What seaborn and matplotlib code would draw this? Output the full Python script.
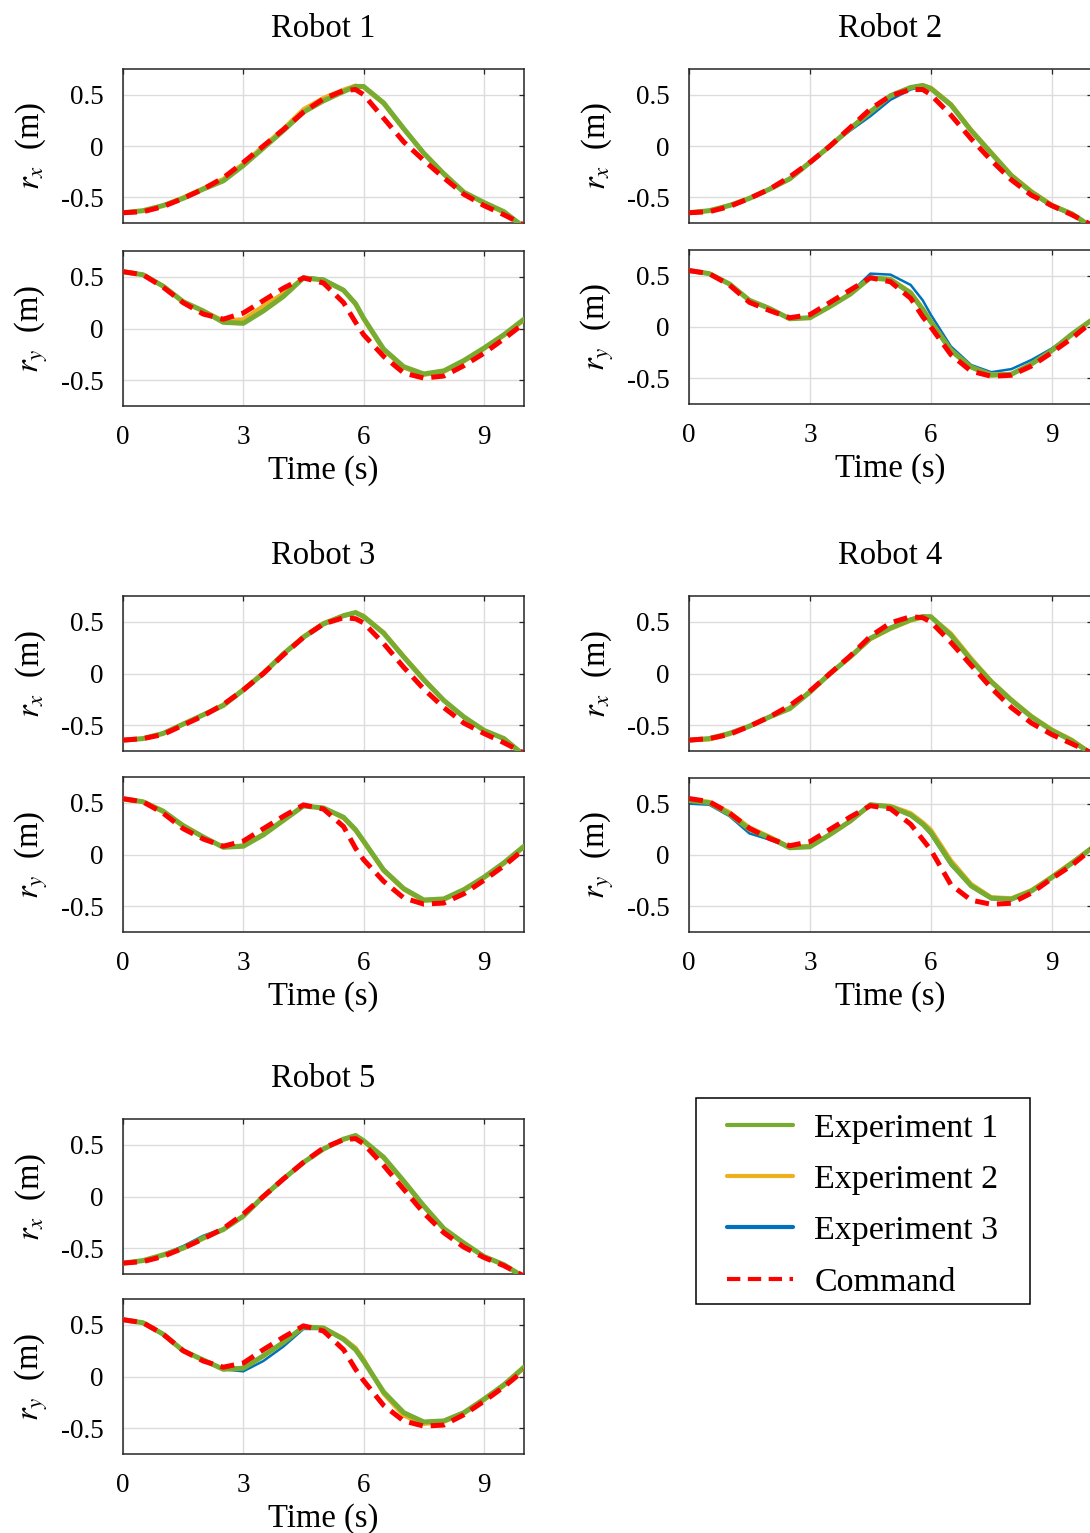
import matplotlib
matplotlib.use("Agg")
import matplotlib.pyplot as plt
from matplotlib.lines import Line2D
from matplotlib.patches import Rectangle
import seaborn as sns

# Time knots (s)
T = [0, 0.5, 1, 1.5, 2, 2.5, 3, 3.5, 4, 4.5, 5, 5.5, 5.8, 6, 6.5, 7, 7.5, 8, 8.5, 9, 9.5, 10]

# Robot 1
R1_RX_CMD = [-0.65, -0.64, -0.59, -0.51, -0.42, -0.31, -0.16, 0.00, 0.16, 0.33, 0.46, 0.54, 0.55, 0.50, 0.27, 0.04, -0.14, -0.31, -0.47, -0.58, -0.67, -0.77]
R1_RX_E1 = [-0.65, -0.63, -0.58, -0.51, -0.42, -0.34, -0.19, -0.02, 0.15, 0.33, 0.44, 0.53, 0.58, 0.58, 0.42, 0.17, -0.07, -0.27, -0.45, -0.55, -0.64, -0.79]
R1_RX_E2 = [-0.65, -0.63, -0.58, -0.50, -0.41, -0.32, -0.17, 0.00, 0.17, 0.36, 0.47, 0.55, 0.59, 0.57, 0.41, 0.16, -0.07, -0.28, -0.45, -0.56, -0.65, -0.79]
R1_RX_E3 = [-0.65, -0.63, -0.58, -0.51, -0.42, -0.33, -0.18, -0.01, 0.16, 0.34, 0.45, 0.54, 0.58, 0.57, 0.41, 0.16, -0.08, -0.28, -0.45, -0.56, -0.65, -0.79]
R1_RY_CMD = [0.55, 0.52, 0.40, 0.25, 0.14, 0.09, 0.15, 0.27, 0.39, 0.49, 0.44, 0.25, 0.06, -0.06, -0.27, -0.43, -0.48, -0.46, -0.36, -0.24, -0.10, 0.05]
R1_RY_E1 = [0.55, 0.52, 0.41, 0.26, 0.17, 0.06, 0.05, 0.17, 0.31, 0.49, 0.47, 0.37, 0.24, 0.10, -0.20, -0.37, -0.44, -0.41, -0.31, -0.19, -0.06, 0.09]
R1_RY_E2 = [0.55, 0.52, 0.41, 0.25, 0.17, 0.08, 0.09, 0.22, 0.34, 0.49, 0.47, 0.37, 0.23, 0.09, -0.21, -0.38, -0.45, -0.42, -0.32, -0.20, -0.07, 0.08]
R1_RY_E3 = [0.55, 0.52, 0.41, 0.26, 0.17, 0.06, 0.06, 0.18, 0.31, 0.50, 0.48, 0.38, 0.25, 0.11, -0.19, -0.37, -0.44, -0.42, -0.31, -0.19, -0.06, 0.09]

# Robot 2
R2_RX_CMD = [-0.65, -0.64, -0.59, -0.51, -0.42, -0.30, -0.16, 0.00, 0.18, 0.36, 0.49, 0.55, 0.55, 0.50, 0.30, 0.07, -0.14, -0.33, -0.48, -0.58, -0.67, -0.77]
R2_RX_E1 = [-0.65, -0.63, -0.58, -0.51, -0.42, -0.32, -0.16, 0.00, 0.17, 0.33, 0.49, 0.57, 0.59, 0.56, 0.40, 0.15, -0.07, -0.29, -0.45, -0.58, -0.66, -0.79]
R2_RX_E2 = [-0.65, -0.63, -0.58, -0.51, -0.42, -0.32, -0.16, 0.00, 0.17, 0.34, 0.49, 0.57, 0.59, 0.57, 0.41, 0.16, -0.06, -0.28, -0.44, -0.57, -0.66, -0.79]
R2_RX_E3 = [-0.65, -0.63, -0.57, -0.51, -0.42, -0.32, -0.16, 0.00, 0.15, 0.29, 0.45, 0.55, 0.58, 0.55, 0.39, 0.14, -0.08, -0.30, -0.46, -0.59, -0.67, -0.80]
R2_RY_CMD = [0.55, 0.52, 0.41, 0.24, 0.16, 0.09, 0.12, 0.24, 0.36, 0.48, 0.44, 0.28, 0.10, 0.00, -0.27, -0.43, -0.48, -0.47, -0.38, -0.25, -0.11, 0.05]
R2_RY_E1 = [0.55, 0.52, 0.42, 0.26, 0.18, 0.08, 0.09, 0.20, 0.32, 0.48, 0.46, 0.33, 0.17, 0.05, -0.23, -0.39, -0.47, -0.46, -0.36, -0.23, -0.07, 0.07]
R2_RY_E2 = [0.55, 0.52, 0.42, 0.26, 0.18, 0.08, 0.09, 0.20, 0.33, 0.48, 0.47, 0.34, 0.18, 0.06, -0.22, -0.39, -0.46, -0.46, -0.36, -0.23, -0.08, 0.07]
R2_RY_E3 = [0.55, 0.52, 0.42, 0.26, 0.18, 0.08, 0.09, 0.20, 0.33, 0.52, 0.51, 0.41, 0.26, 0.12, -0.19, -0.37, -0.44, -0.41, -0.32, -0.21, -0.07, 0.07]

# Robot 3
R3_RX_CMD = [-0.645, -0.63, -0.59, -0.50, -0.41, -0.30, -0.16, 0.00, 0.18, 0.35, 0.48, 0.54, 0.53, 0.49, 0.29, 0.06, -0.15, -0.33, -0.48, -0.58, -0.67, -0.77]
R3_RX_E1 = [-0.645, -0.63, -0.58, -0.49, -0.40, -0.31, -0.16, 0.00, 0.19, 0.35, 0.48, 0.56, 0.59, 0.55, 0.39, 0.16, -0.06, -0.26, -0.42, -0.55, -0.63, -0.79]
R3_RX_E2 = [-0.645, -0.63, -0.58, -0.49, -0.40, -0.30, -0.15, 0.01, 0.19, 0.36, 0.49, 0.56, 0.59, 0.56, 0.40, 0.17, -0.05, -0.26, -0.42, -0.55, -0.63, -0.79]
R3_RX_E3 = [-0.645, -0.63, -0.58, -0.49, -0.40, -0.31, -0.16, 0.00, 0.20, 0.36, 0.47, 0.55, 0.58, 0.55, 0.39, 0.16, -0.06, -0.27, -0.43, -0.55, -0.64, -0.79]
R3_RY_CMD = [0.54, 0.51, 0.40, 0.25, 0.15, 0.08, 0.13, 0.25, 0.37, 0.48, 0.44, 0.27, 0.06, -0.05, -0.26, -0.42, -0.48, -0.47, -0.38, -0.25, -0.11, 0.05]
R3_RY_E1 = [0.54, 0.51, 0.42, 0.28, 0.17, 0.07, 0.08, 0.19, 0.33, 0.47, 0.45, 0.36, 0.24, 0.13, -0.15, -0.33, -0.44, -0.43, -0.34, -0.22, -0.08, 0.08]
R3_RY_E2 = [0.53, 0.51, 0.41, 0.27, 0.17, 0.07, 0.09, 0.20, 0.34, 0.47, 0.45, 0.35, 0.23, 0.12, -0.16, -0.34, -0.45, -0.44, -0.35, -0.23, -0.09, 0.07]
R3_RY_E3 = [0.54, 0.51, 0.42, 0.28, 0.17, 0.07, 0.08, 0.19, 0.33, 0.47, 0.45, 0.37, 0.25, 0.14, -0.14, -0.33, -0.44, -0.43, -0.34, -0.22, -0.08, 0.08]

# Robot 4
R4_RX_CMD = [-0.645, -0.63, -0.59, -0.51, -0.42, -0.31, -0.17, 0.00, 0.17, 0.36, 0.49, 0.55, 0.54, 0.50, 0.30, 0.08, -0.14, -0.33, -0.48, -0.59, -0.68, -0.77]
R4_RX_E1 = [-0.645, -0.63, -0.58, -0.51, -0.42, -0.34, -0.18, 0.00, 0.16, 0.34, 0.44, 0.52, 0.55, 0.55, 0.37, 0.13, -0.08, -0.26, -0.42, -0.55, -0.65, -0.78]
R4_RX_E2 = [-0.645, -0.64, -0.59, -0.51, -0.42, -0.33, -0.17, 0.00, 0.16, 0.33, 0.43, 0.51, 0.54, 0.55, 0.39, 0.15, -0.07, -0.25, -0.41, -0.54, -0.64, -0.78]
R4_RX_E3 = [-0.645, -0.63, -0.58, -0.51, -0.42, -0.33, -0.18, 0.00, 0.17, 0.35, 0.45, 0.53, 0.56, 0.55, 0.38, 0.14, -0.08, -0.26, -0.42, -0.55, -0.65, -0.78]
R4_RY_CMD = [0.55, 0.52, 0.41, 0.26, 0.16, 0.09, 0.13, 0.25, 0.37, 0.48, 0.45, 0.30, 0.15, 0.05, -0.29, -0.44, -0.48, -0.47, -0.37, -0.23, -0.10, 0.06]
R4_RY_E1 = [0.53, 0.51, 0.40, 0.25, 0.17, 0.07, 0.08, 0.20, 0.33, 0.49, 0.47, 0.39, 0.30, 0.22, -0.08, -0.30, -0.42, -0.43, -0.35, -0.22, -0.08, 0.07]
R4_RY_E2 = [0.54, 0.52, 0.42, 0.27, 0.18, 0.08, 0.09, 0.20, 0.33, 0.49, 0.48, 0.41, 0.32, 0.25, -0.05, -0.28, -0.41, -0.42, -0.34, -0.21, -0.07, 0.07]
R4_RY_E3 = [0.50, 0.49, 0.38, 0.21, 0.15, 0.07, 0.08, 0.20, 0.33, 0.48, 0.47, 0.38, 0.29, 0.20, -0.10, -0.31, -0.43, -0.44, -0.35, -0.22, -0.08, 0.07]

# Robot 5
R5_RX_CMD = [-0.645, -0.63, -0.58, -0.50, -0.41, -0.31, -0.17, 0.00, 0.17, 0.33, 0.47, 0.55, 0.56, 0.51, 0.30, 0.07, -0.16, -0.35, -0.49, -0.59, -0.67, -0.77]
R5_RX_E1 = [-0.645, -0.62, -0.565, -0.50, -0.40, -0.32, -0.19, 0.00, 0.17, 0.33, 0.46, 0.555, 0.59, 0.54, 0.38, 0.15, -0.09, -0.31, -0.45, -0.58, -0.66, -0.78]
R5_RX_E2 = [-0.645, -0.62, -0.57, -0.50, -0.41, -0.32, -0.19, 0.00, 0.17, 0.33, 0.46, 0.55, 0.58, 0.53, 0.37, 0.14, -0.10, -0.31, -0.46, -0.58, -0.66, -0.78]
R5_RX_E3 = [-0.645, -0.62, -0.56, -0.48, -0.38, -0.31, -0.19, 0.00, 0.17, 0.33, 0.46, 0.55, 0.59, 0.54, 0.38, 0.15, -0.09, -0.31, -0.45, -0.58, -0.66, -0.78]
R5_RY_CMD = [0.55, 0.52, 0.41, 0.25, 0.15, 0.09, 0.13, 0.26, 0.38, 0.49, 0.44, 0.26, 0.07, -0.04, -0.28, -0.43, -0.48, -0.47, -0.37, -0.24, -0.10, 0.06]
R5_RY_E1 = [0.55, 0.52, 0.41, 0.25, 0.16, 0.07, 0.08, 0.20, 0.33, 0.48, 0.47, 0.36, 0.26, 0.15, -0.15, -0.35, -0.44, -0.43, -0.35, -0.22, -0.08, 0.09]
R5_RY_E2 = [0.55, 0.52, 0.41, 0.25, 0.16, 0.07, 0.08, 0.20, 0.33, 0.48, 0.47, 0.37, 0.28, 0.17, -0.17, -0.38, -0.46, -0.44, -0.36, -0.23, -0.09, 0.08]
R5_RY_E3 = [0.55, 0.52, 0.41, 0.24, 0.16, 0.07, 0.05, 0.15, 0.29, 0.46, 0.46, 0.36, 0.26, 0.15, -0.15, -0.35, -0.44, -0.43, -0.35, -0.22, -0.08, 0.09]

ROBOT_NAMES = ["Robot 1", "Robot 2", "Robot 3", "Robot 4", "Robot 5"]
ROBOT_DATA = [
    (R1_RX_E1, R1_RX_E2, R1_RX_E3, R1_RX_CMD, R1_RY_E1, R1_RY_E2, R1_RY_E3, R1_RY_CMD),
    (R2_RX_E1, R2_RX_E2, R2_RX_E3, R2_RX_CMD, R2_RY_E1, R2_RY_E2, R2_RY_E3, R2_RY_CMD),
    (R3_RX_E1, R3_RX_E2, R3_RX_E3, R3_RX_CMD, R3_RY_E1, R3_RY_E2, R3_RY_E3, R3_RY_CMD),
    (R4_RX_E1, R4_RX_E2, R4_RX_E3, R4_RX_CMD, R4_RY_E1, R4_RY_E2, R4_RY_E3, R4_RY_CMD),
    (R5_RX_E1, R5_RX_E2, R5_RX_E3, R5_RX_CMD, R5_RY_E1, R5_RY_E2, R5_RY_E3, R5_RY_CMD),
]
LEGEND_LABELS = ["Experiment 1", "Experiment 2", "Experiment 3", "Command"]

GREEN = "#77AC30"
YELLOW = "#EDB120"
BLUE = "#0072BD"
RED = "#FF0000"

sns.set_style("white")
plt.rcParams["font.family"] = ["Liberation Serif", "DejaVu Serif"]
plt.rcParams["mathtext.fontset"] = "stix"
plt.rcParams["axes.unicode_minus"] = False
plt.rcParams["text.color"] = "black"
plt.rcParams["axes.labelcolor"] = "black"
plt.rcParams["xtick.color"] = "black"
plt.rcParams["ytick.color"] = "black"

W, H = 1090, 1533
fig = plt.figure(figsize=(W / 100, H / 100), dpi=100)

# pixel layout: left, right, rx top, rx bottom, ry top, ry bottom
layout = [
    (123, 524, 69, 223, 251, 406),
    (689, 1092, 69, 223, 250, 404),
    (123, 524, 596, 751, 777, 932),
    (689, 1092, 596, 751, 778, 932),
    (123, 524, 1119, 1274, 1299, 1454),
]


def px_axes(x0, x1, y0, y1):
    return fig.add_axes([x0 / W, 1 - y1 / H, (x1 - x0) / W, (y1 - y0) / H])


def style_axes(ax, bottom_labels):
    ax.set_xlim(0, 10)
    ax.set_ylim(-0.75, 0.75)
    ax.set_xticks([0, 3, 6, 9])
    ax.set_yticks([-0.5, 0, 0.5])
    ax.set_yticklabels(["-0.5", "0", "0.5"])
    ax.grid(True, color="#DCDCDC", linewidth=1.0)
    ax.set_axisbelow(True)
    for s in ax.spines.values():
        s.set_color("#262626")
        s.set_linewidth(1.1)
    ax.tick_params(direction="in", length=3.5, width=0.9, color="#262626",
                   labelcolor="black", top=True, right=True, labelsize=19.5,
                   pad=14, labelbottom=bottom_labels)


def draw(ax, e1, e2, e3, cmd):
    sns.lineplot(x=T, y=e3, ax=ax, color=BLUE, linewidth=1.8, legend=False, zorder=2)
    sns.lineplot(x=T, y=e2, ax=ax, color=YELLOW, linewidth=2.8, legend=False, zorder=3)
    sns.lineplot(x=T, y=e1, ax=ax, color=GREEN, linewidth=3.6, legend=False, zorder=4)
    sns.lineplot(x=T, y=cmd, ax=ax, color=RED, linewidth=3.6, legend=False, zorder=5,
                 linestyle=(0, (2.8, 1.6)))


for name, data, (x0, x1, a0, a1, b0, b1) in zip(ROBOT_NAMES, ROBOT_DATA, layout):
    ax_x = px_axes(x0, x1, a0, a1)
    ax_y = px_axes(x0, x1, b0, b1)
    draw(ax_x, *data[:4])
    draw(ax_y, *data[4:])
    style_axes(ax_x, False)
    style_axes(ax_y, True)

    ax_x.set_ylabel(r"$r_x$  (m)", fontsize=23.5)
    ax_y.set_ylabel(r"$r_y$  (m)", fontsize=23.5)
    for ax in (ax_x, ax_y):
        ax.yaxis.set_label_coords(-92 / (x1 - x0), 0.5)
        ax.yaxis.label.set_va("center")
    ax_y.set_xlabel("Time (s)", fontsize=23.5)
    ax_y.xaxis.set_label_coords(0.5, -65 / (b1 - b0))
    ax_y.xaxis.label.set_va("center")

    xc = (x0 + x1) / 2
    fig.text(xc / W, 1 - (a0 - 40) / H, name, ha="center", va="center", fontsize=23.5)

# legend: frame drawn as a rectangle, entries placed inside it
fig.patches.append(Rectangle((696 / W, 1 - 1304 / H), 334 / W, 206 / H,
                             transform=fig.transFigure, fill=False,
                             edgecolor="black", linewidth=1.1))
handles = [
    Line2D([], [], color=GREEN, linewidth=3),
    Line2D([], [], color=YELLOW, linewidth=3),
    Line2D([], [], color=BLUE, linewidth=3),
    Line2D([], [], color=RED, linewidth=3, linestyle=(0, (3.2, 1.8))),
]
fig.legend(handles, LEGEND_LABELS, loc="upper left",
           bbox_to_anchor=(727 / W, 1 - 1113 / H), borderaxespad=0,
           borderpad=0, fontsize=24.5, frameon=False, handlelength=1.95,
           handletextpad=0.62, labelspacing=0.6)

fig.savefig("out.png", dpi=100)
